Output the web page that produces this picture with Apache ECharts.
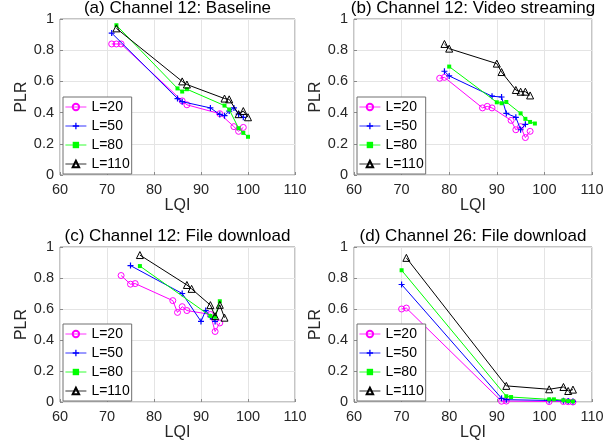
<!DOCTYPE html>
<html>
<head>
<meta charset="utf-8">
<script src="https://cdn.jsdelivr.net/npm/echarts@6/dist/echarts.min.js"></script>
<style>html,body{margin:0;padding:0;background:#fff}#c{width:613px;height:443px}</style>
</head>
<body>
<div id="c"></div>
<script>
// ---- data: [LQI, PLR] pairs ----
const seriesNames = ['L=20', 'L=50', 'L=80', 'L=110'];
const xTicks = [60, 70, 80, 90, 100, 110];
const yTicks = [0, 0.2, 0.4, 0.6, 0.8, 1];
const panelTitles = ['(a) Channel 12: Baseline', '(b) Channel 12: Video streaming', '(c) Channel 12: File download', '(d) Channel 26: File download'];

// (a) Channel 12: Baseline
const a_L20 = [[71,0.84],[72,0.84],[73,0.84],[86,0.475],[87,0.45],[94,0.393],[97,0.31],[98,0.28],[99,0.305]];
const a_L50 = [[71,0.91],[85,0.49],[86,0.47],[92,0.43],[94,0.388],[95,0.38],[96,0.41],[97,0.43],[98,0.39],[99,0.37]];
const a_L80 = [[72,0.96],[85,0.555],[86,0.535],[87,0.55],[95,0.445],[96,0.42],[98,0.30],[99,0.27],[100,0.245]];
const a_L110 = [[72,0.94],[86,0.60],[87,0.58],[95,0.49],[96,0.485],[98,0.39],[99,0.41],[100,0.37]];

// (b) Channel 12: Video streaming
const b_L20 = [[78,0.62],[79,0.626],[87,0.43],[88,0.44],[89,0.43],[93,0.35],[94,0.29],[95,0.31],[96,0.24],[97,0.28]];
const b_L50 = [[79,0.665],[80,0.635],[89,0.505],[91,0.50],[92,0.395],[94,0.37],[95,0.29],[96,0.325]];
const b_L80 = [[80,0.695],[90,0.466],[91,0.46],[92,0.468],[95,0.395],[96,0.36],[97,0.34],[98,0.33]];
const b_L110 = [[79,0.84],[80,0.81],[90,0.714],[91,0.66],[94,0.545],[95,0.534],[96,0.534],[97,0.51]];

// (c) Channel 12: File download
const c_L20 = [[73,0.816],[75,0.76],[76,0.764],[84,0.654],[85,0.578],[86,0.615],[87,0.59],[92,0.565],[93,0.455],[94,0.51]];
const c_L50 = [[75,0.88],[86,0.70],[90,0.52],[91,0.59],[92,0.55],[93,0.52]];
const c_L80 = [[77,0.877],[92,0.555],[93,0.55],[94,0.65]];
const c_L110 = [[77,0.948],[87,0.755],[88,0.73],[92,0.625],[93,0.554],[94,0.627],[95,0.544]];

// (d) Channel 26: File download
const d_L20 = [[70,0.60],[71,0.606],[91,0.005],[92,0.006],[101,0.003],[104,0.003],[105,0.002],[106,0.0]];
const d_L50 = [[70,0.758],[91,0.024],[92,0.015],[101,0.01],[104,0.008],[105,0.006],[106,0.004]];
const d_L80 = [[70,0.85],[92,0.037],[93,0.032],[101,0.017],[102,0.017],[104,0.011],[105,0.006],[106,0.004]];
const d_L110 = [[71,0.93],[92,0.104],[101,0.082],[104,0.097],[105,0.071],[106,0.08]];

const panels = [
  [a_L20, a_L50, a_L80, a_L110],
  [b_L20, b_L50, b_L80, b_L110],
  [c_L20, c_L50, c_L80, c_L110],
  [d_L20, d_L50, d_L80, d_L110]
];

// ---- styling / layout ----
const FONT = "'Liberation Sans', Arial, sans-serif";
const grids = [
  {left: 60, top: 19, width: 235, height: 156},
  {left: 354, top: 19, width: 238, height: 156},
  {left: 60, top: 247, width: 235, height: 155},
  {left: 354, top: 247, width: 238, height: 155}
];
const colors = ['#ff00ff', '#0000ff', '#00ff00', '#000000'];
const plusPath = 'path://M4,0H6V4H10V6H6V10H4V6H0V4H4Z';
const markerStyles = [
  {symbol: 'circle', symbolSize: 6, itemStyle: {color: 'rgba(255,255,255,0)', borderColor: '#ff00ff', borderWidth: 1}},
  {symbol: plusPath, symbolSize: 6, itemStyle: {color: '#0000ff', borderWidth: 0}},
  {symbol: 'rect', symbolSize: 4, itemStyle: {color: '#00ff00', borderWidth: 0}},
  {symbol: 'triangle', symbolSize: 7, itemStyle: {color: 'rgba(255,255,255,0)', borderColor: '#000000', borderWidth: 1}}
];

const option = {
  animation: false,
  backgroundColor: '#fff',
  textStyle: {fontFamily: FONT},
  title: [],
  grid: [],
  xAxis: [],
  yAxis: [],
  legend: [],
  series: []
};

grids.forEach((g, i) => {
  option.grid.push(Object.assign({show: true, borderColor: '#8a8a8a', borderWidth: 1, backgroundColor: '#fff', containLabel: false}, g));
  option.title.push({
    text: panelTitles[i],
    left: g.left + g.width / 2,
    top: g.top - 19,
    textAlign: 'center',
    padding: 0,
    textStyle: {fontFamily: FONT, fontSize: 17, fontWeight: 'normal', color: '#000'}
  });
  option.xAxis.push({
    type: 'value', gridIndex: i, min: xTicks[0], max: xTicks[xTicks.length - 1], interval: 10,
    name: 'LQI', nameLocation: 'middle', nameGap: 22,
    nameTextStyle: {fontFamily: FONT, fontSize: 16, color: '#262626'},
    axisLine: {show: false},
    axisTick: {show: true, inside: true, length: 3, lineStyle: {color: '#8a8a8a'}},
    axisLabel: {fontFamily: FONT, fontSize: 14.5, color: '#262626', margin: 7},
    splitLine: {show: true, lineStyle: {color: '#e4e4e4', width: 1}}
  });
  option.yAxis.push({
    type: 'value', gridIndex: i, min: yTicks[0], max: yTicks[yTicks.length - 1], interval: 0.2,
    name: 'PLR', nameLocation: 'middle', nameGap: 29, nameRotate: 90,
    nameTextStyle: {fontFamily: FONT, fontSize: 16, color: '#262626'},
    axisLine: {show: false},
    axisTick: {show: true, inside: true, length: 3, lineStyle: {color: '#8a8a8a'}},
    axisLabel: {fontFamily: FONT, fontSize: 14.5, color: '#262626', margin: 6},
    splitLine: {show: true, lineStyle: {color: '#e4e4e4', width: 1}}
  });
  option.legend.push({
    data: seriesNames,
    orient: 'vertical',
    left: g.left + 3,
    top: g.top + g.height - 78,
    padding: [3, 2, 3, 2],
    itemGap: 5,
    itemWidth: 21,
    itemHeight: 8,
    borderColor: '#707070',
    borderWidth: 1,
    borderRadius: 0,
    backgroundColor: '#fff',
    selectedMode: false,
    lineStyle: {width: 0.8},
    textStyle: {fontFamily: FONT, fontSize: 14, color: '#000'}
  });
  panels[i].forEach((arr, k) => {
    option.series.push(Object.assign({
      name: seriesNames[k],
      type: 'line',
      xAxisIndex: i,
      yAxisIndex: i,
      data: arr,
      showSymbol: true,
      clip: false,
      lineStyle: {color: colors[k], width: 1},
      emphasis: {disabled: true},
      z: 2 + k
    }, markerStyles[k]));
  });
});

const chart = echarts.init(document.getElementById('c'), null, {renderer: 'canvas'});
chart.setOption(option);
</script>
</body>
</html>
